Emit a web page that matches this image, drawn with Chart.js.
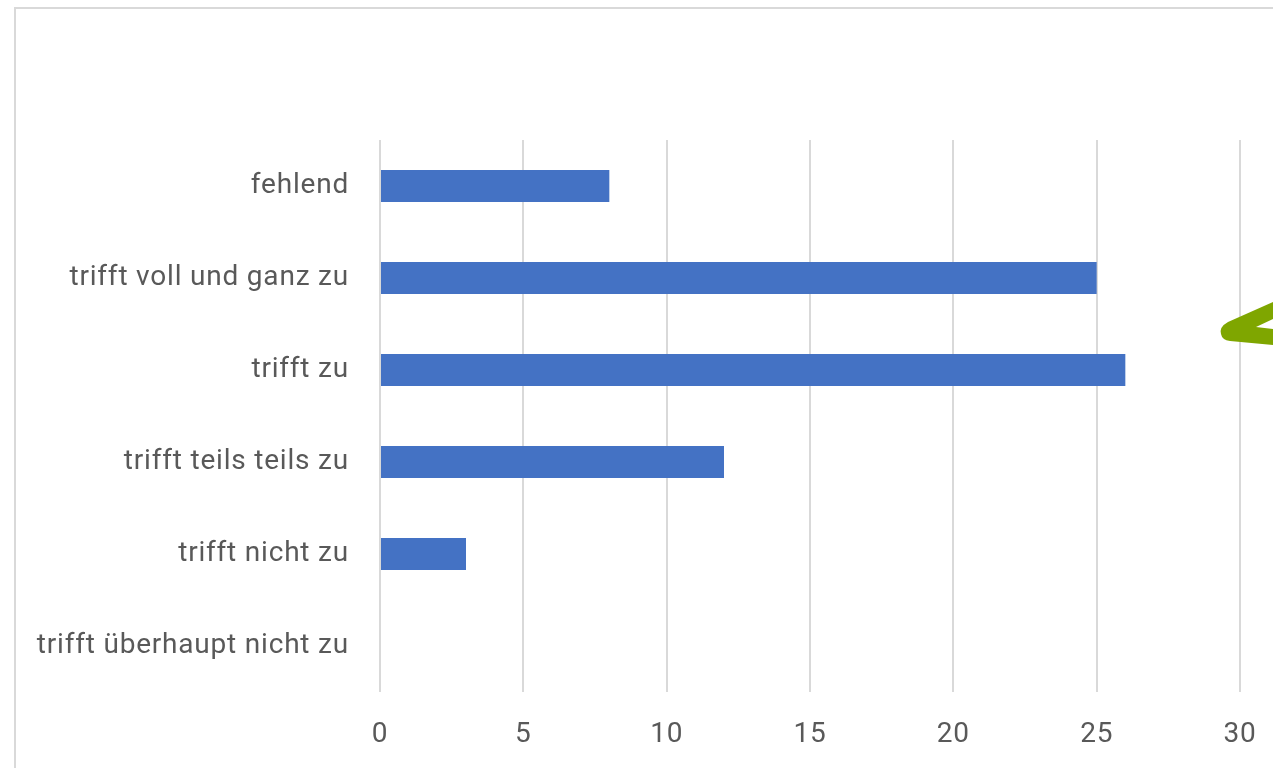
<!DOCTYPE html>
<html><head><meta charset="utf-8">
<script src="https://cdn.jsdelivr.net/npm/chart.js@4/dist/chart.umd.min.js"></script>
<style>html,body{margin:0;padding:0;background:#fff;overflow:hidden}#wrap{position:absolute;left:0;top:0;width:1273px;height:768px}</style>
</head><body><div id="wrap"><canvas id="c" width="1273" height="768"></canvas></div>
<script>
const categories = ["fehlend","trifft voll und ganz zu","trifft zu","trifft teils teils zu","trifft nicht zu","trifft überhaupt nicht zu"];
const values = [8,25,26,12,3,0];
const xTicks = [0,5,10,15,20,25,30];

const deco = {
  id:'deco',
  beforeDraw(ch){
    const c=ch.ctx; c.save();
    c.fillStyle='#fff'; c.fillRect(0,0,ch.width,ch.height);
    c.strokeStyle='#d9d9d9'; c.lineWidth=2;
    c.strokeRect(15,8,1400,900);
    c.restore();
    c.letterSpacing='0.8px';
  },
  afterDraw(ch){
    const c=ch.ctx; c.letterSpacing='0px'; c.save();
    c.fillStyle='#7fa600';
    c.beginPath();
    c.moveTo(1273,302);
    c.lineTo(1228,322);
    c.quadraticCurveTo(1219,327,1221,334);
    c.quadraticCurveTo(1222,340,1230,341);
    c.lineTo(1273,345);
    c.lineTo(1273,329);
    c.lineTo(1256,327);
    c.lineTo(1273,319);
    c.closePath(); c.fill();
    c.restore();
  }
};

new Chart(document.getElementById('c'),{
  type:'bar',
  data:{labels:categories,datasets:[{data:values,backgroundColor:'#4472c4',barPercentage:0.7,categoryPercentage:0.5}]},
  options:{
    indexAxis:'y',responsive:false,animation:false,devicePixelRatio:1,
    layout:{padding:{left:0,right:33,top:140,bottom:0}},
    plugins:{legend:{display:false},tooltip:{enabled:false}},
    scales:{
      x:{min:0,max:30,
        afterBuildTicks(s){s.ticks=xTicks.map(v=>({value:v}));},
        afterFit(s){s.height=76;s.paddingRight=0;s.paddingLeft=0;},
        grid:{color:'#d9d9d9',lineWidth:2,drawTicks:false},
        border:{display:false},
        ticks:{padding:26,color:'#595959',font:{family:'Roboto',size:28}}},
      y:{
        afterFit(s){s.width=380;s.paddingTop=0;s.paddingBottom=0;},
        grid:{display:false,drawTicks:false},
        border:{display:false},
        ticks:{padding:31,color:'#595959',font:{family:'Roboto',size:28}}}
    }
  },
  plugins:[deco]
});
</script></body></html>
